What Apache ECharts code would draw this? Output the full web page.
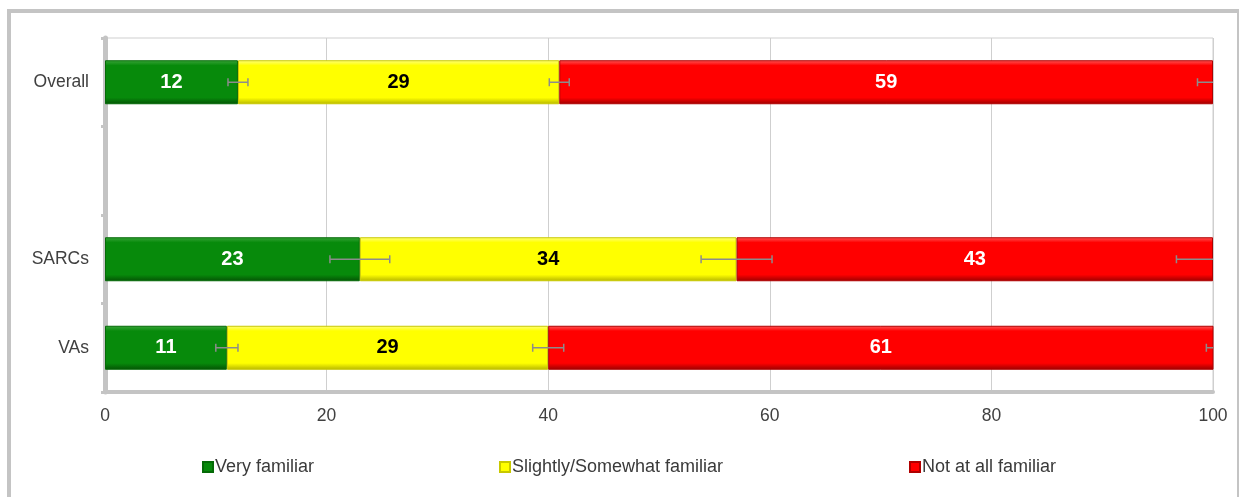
<!DOCTYPE html>
<html lang="en">
  <head>
    <meta charset="UTF-8" />
    <title>Familiarity</title>
    <script src="https://cdn.jsdelivr.net/npm/echarts@6/dist/echarts.min.js"></script>
    <style>
      html, body { margin: 0; padding: 0; background: #fff; }
      #wrap { position: relative; width: 1239px; height: 497px; overflow: hidden; }
      .frame {
        position: absolute; left: 7px; top: 9px; width: 1226px; height: 500px;
        border: 4px solid #c4c4c4; box-sizing: content-box;
      }
      #chart { position: absolute; left: 0; top: 0; width: 1239px; height: 497px; }
    </style>
  </head>
  <body>
    <div id="wrap">
      <div class="frame"></div>
      <div id="chart"></div>
    </div>
    <script>
      // data
      const categories = ["Overall", "", "SARCs", "VAs"];
      const veryFamiliar = [12, null, 23, 11];
      const slightlyFamiliar = [29, null, 34, 29];
      const notFamiliar = [59, null, 43, 61];
      // half width of the error whiskers at each segment end
      const veryErr = [0.9, null, 2.7, 1.0];
      const slightlyErr = [0.9, null, 3.2, 1.4];
      const notErr = [1.4, null, 3.3, 1.6];
      const xTicks = [0, 20, 40, 60, 80, 100];

      const chart = echarts.init(document.getElementById("chart"));

      function bevel(light, main, dark) {
        return new echarts.graphic.LinearGradient(0, 0, 0, 1, [
          { offset: 0, color: light },
          { offset: 0.12, color: main },
          { offset: 0.85, color: main },
          { offset: 1, color: dark }
        ]);
      }

      // cumulative end of each stacked segment -> whisker data
      function whiskers(stackList, errs) {
        const out = [];
        categories.forEach((c, i) => {
          if (errs[i] == null) return;
          let end = 0;
          stackList.forEach(arr => (end += arr[i]));
          out.push([end - errs[i], end + errs[i], i]);
        });
        return out;
      }

      function renderWhisker(params, api) {
        const lo = api.coord([api.value(0), api.value(2)]);
        const hi = api.coord([api.value(1), api.value(2)]);
        const h = 4;
        const style = { stroke: "#8c8c8c", lineWidth: 1.5 };
        return {
          type: "group",
          children: [
            { type: "line", shape: { x1: lo[0], y1: lo[1], x2: hi[0], y2: hi[1] }, style },
            { type: "line", shape: { x1: lo[0], y1: lo[1] - h, x2: lo[0], y2: lo[1] + h }, style },
            { type: "line", shape: { x1: hi[0], y1: hi[1] - h, x2: hi[0], y2: hi[1] + h }, style }
          ]
        };
      }

      const font = "Liberation Sans, Arial, sans-serif";

      const labelBase = {
        show: true,
        position: "inside",
        fontFamily: font,
        fontWeight: "bold",
        fontSize: 20
      };

      const barCommon = {
        type: "bar",
        stack: "total",
        barWidth: 44,
        clip: true
      };

      const option = {
        animation: false,
        textStyle: { fontFamily: font },
        grid: {
          left: 105, right: 26, top: 38, bottom: 105,
          show: true, borderColor: "#cfcfcf", borderWidth: 1
        },
        legend: [
          { data: ["Very familiar"], left: 202, top: 458 },
          { data: ["Slightly/Somewhat familiar"], left: 499, top: 458 },
          { data: ["Not at all familiar"], left: 909, top: 458 }
        ].map(l => Object.assign(l, {
          icon: "rect", itemWidth: 10, itemHeight: 10, itemGap: 2, padding: 0,
          textStyle: { fontSize: 18, color: "#3a3a3a", padding: [0, 0, 0, -3] }
        })),
        xAxis: {
          type: "value",
          min: xTicks[0],
          max: xTicks[xTicks.length - 1],
          interval: xTicks[1] - xTicks[0],
          axisLine: { show: true, lineStyle: { color: "#c4c4c4", width: 4 } },
          axisTick: { show: false },
          splitLine: { lineStyle: { color: "#cfcfcf", width: 1 } },
          axisLabel: { color: "#404040", fontSize: 17.5, margin: 15 }
        },
        yAxis: {
          type: "category",
          data: categories,
          inverse: true,
          axisLine: { lineStyle: { color: "#c4c4c4", width: 5 } },
          axisTick: { show: true, length: 4, lineStyle: { color: "#c4c4c4", width: 3 } },
          axisLabel: { color: "#404040", fontSize: 17.5, margin: 16 }
        },
        series: [
          Object.assign({}, barCommon, {
            name: "Very familiar",
            data: veryFamiliar,
            itemStyle: { color: bevel("#3aa53a", "#078a0b", "#045204"), borderColor: "#056a07", borderWidth: 1 },
            label: Object.assign({}, labelBase, { color: "#fff" })
          }),
          Object.assign({}, barCommon, {
            name: "Slightly/Somewhat familiar",
            data: slightlyFamiliar,
            itemStyle: { color: bevel("#ffff80", "#ffff00", "#b5b500"), borderColor: "#c8c800", borderWidth: 1 },
            label: Object.assign({}, labelBase, { color: "#000" })
          }),
          Object.assign({}, barCommon, {
            name: "Not at all familiar",
            data: notFamiliar,
            itemStyle: { color: bevel("#ff5a5a", "#ff0000", "#9a0000"), borderColor: "#b00000", borderWidth: 1 },
            label: Object.assign({}, labelBase, { color: "#fff" })
          }),
          {
            type: "custom",
            name: "err1",
            renderItem: renderWhisker,
            encode: { x: [0, 1], y: 2 },
            data: whiskers([veryFamiliar], veryErr),
            clip: true,
            z: 5
          },
          {
            type: "custom",
            name: "err2",
            renderItem: renderWhisker,
            encode: { x: [0, 1], y: 2 },
            data: whiskers([veryFamiliar, slightlyFamiliar], slightlyErr),
            clip: true,
            z: 5
          },
          {
            type: "custom",
            name: "err3",
            renderItem: renderWhisker,
            encode: { x: [0, 1], y: 2 },
            data: whiskers([veryFamiliar, slightlyFamiliar, notFamiliar], notErr),
            clip: true,
            z: 5
          }
        ]
      };

      chart.setOption(option);
    </script>
  </body>
</html>
